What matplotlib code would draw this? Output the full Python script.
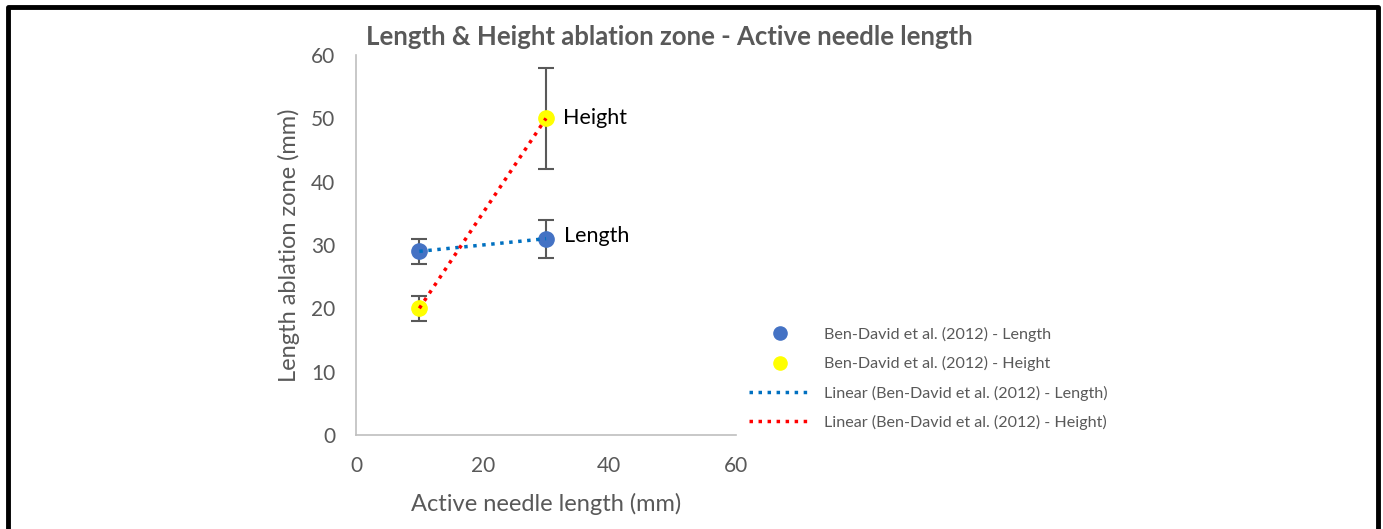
from matplotlib import pyplot as plt
from matplotlib.lines import Line2D
import numpy as np

plt.rcParams['font.family'] = ['Lato', 'DejaVu Sans']

# data
needle = [10, 30]
length = [29, 31]
length_err = [2, 3]
height = [20, 50]
height_err = [2, 8]

grey = "#595959"

fig = plt.figure(figsize=(13.83, 5.29), dpi=100)
ax = fig.add_axes([356 / 1383, 1 - 435 / 529, 380 / 1383, 380 / 529])

# error bars + markers
ax.errorbar(needle, length, yerr=length_err, fmt="o", color="#4472C4", ms=11,
            ecolor=grey, elinewidth=1.5, capsize=6, capthick=1.5, zorder=3,
            label="Ben-David et al. (2012) - Length")
ax.errorbar(needle, height, yerr=height_err, fmt="o", color="#FFFF00", ms=11,
            ecolor=grey, elinewidth=1.5, capsize=6, capthick=1.5, zorder=3,
            label="Ben-David et al. (2012) - Height")

# linear trendlines
xs = np.array(needle, dtype=float)
p_len = np.polyfit(needle, length, 1)
p_hei = np.polyfit(needle, height, 1)
ax.plot(xs, np.polyval(p_len, xs), ls=(0, (1, 1.6)), color="#0070C0", lw=2.5, zorder=4)
ax.plot(xs, np.polyval(p_hei, xs), ls=(0, (1, 1.6)), color="#FF0000", lw=2.5, zorder=4)

# data labels
ax.annotate("Height", (needle[1], height[1]), xytext=(12, 0), textcoords="offset points",
            va="center", ha="left", fontsize=15.5, color="black")
ax.annotate("Length", (needle[1], length[1]), xytext=(13, 2), textcoords="offset points",
            va="center", ha="left", fontsize=15.5, color="black")

ax.set_xlim(0, 60)
ax.set_ylim(0, 60)
ax.set_xticks([0, 20, 40, 60])
ax.set_yticks(range(0, 61, 10))
ax.tick_params(length=0, labelsize=15, labelcolor=grey, pad=15)
for s in ["top", "right"]:
    ax.spines[s].set_visible(False)
for s in ["left", "bottom"]:
    ax.spines[s].set_color("#BFBFBF")
    ax.spines[s].set_linewidth(1.2)
ax.set_xlabel("Active needle length (mm)", fontsize=17, color=grey, labelpad=12)
ax.set_ylabel("Length ablation zone (mm)", fontsize=17, color=grey, labelpad=8)

fig.text(669 / 1383, 1 - 37 / 529, "Length & Height ablation zone - Active needle length",
         ha="center", va="center", fontsize=18.5, fontweight="bold", color=grey)

# legend
handles = [
    Line2D([], [], ls="none", marker="o", ms=9.5, color="#4472C4"),
    Line2D([], [], ls="none", marker="o", ms=9.5, color="#FFFF00"),
    Line2D([], [], ls=(0, (1, 1.6)), lw=2.5, color="#0070C0"),
    Line2D([], [], ls=(0, (1, 1.6)), lw=2.5, color="#FF0000"),
]
labels = ["Ben-David et al. (2012) - Length",
          "Ben-David et al. (2012) - Height",
          "Linear (Ben-David et al. (2012) - Length)",
          "Linear (Ben-David et al. (2012) - Height)"]
fig.legend(handles, labels, loc="upper left", bbox_to_anchor=(749 / 1383, 1 - 327 / 529),
           frameon=False, fontsize=11.6, labelcolor=grey, handlelength=3.9,
           handletextpad=0.75, labelspacing=0.88, borderpad=0, borderaxespad=0)

# black frame (top, left, right)
fig.add_artist(Line2D([8 / 1383, 8 / 1383, 1378 / 1383, 1378 / 1383],
                      [0, 1 - 7 / 529, 1 - 7 / 529, 0], color="black", lw=3.5,
                      transform=fig.transFigure))

fig.savefig("out.png", dpi=100)
